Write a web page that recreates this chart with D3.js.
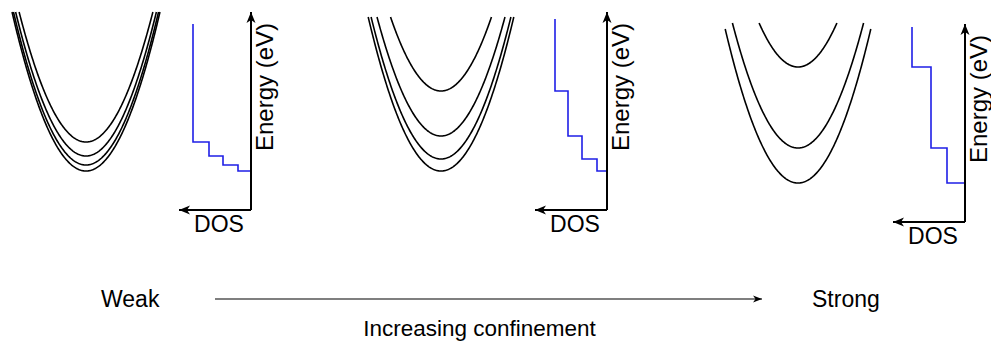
<!DOCTYPE html>
<html>
<head>
<meta charset="utf-8">
<script src="https://cdn.jsdelivr.net/npm/d3@7"></script>
<style>
  html, body { margin: 0; padding: 0; background: #ffffff; }
  svg { display: block; }
  text { font-family: "Liberation Sans", Arial, sans-serif; fill: #000; }
</style>
</head>
<body>
<svg id="chart" width="991" height="343"></svg>
<script>
// Subband minimum energies (arbitrary units above the band edge), weak -> strong confinement
const levelsWeak   = [39, 45, 54, 68];
const levelsMedium = [39, 51, 74, 119];
const levelsStrong = [39, 74, 155];

// Energy at which each dispersion curve is cut off
const topsWeak   = [198, 198, 198, 198];
const topsMedium = [193, 193, 193, 193];
const topsStrong = [193, 199, 199];

// Step-like 2D density of states reached after each subband onset
const dosWeak   = [13, 28, 42, 58];
const dosMedium = [10, 25, 39, 52];
const dosStrong = [18, 34, 53];

// Upper end of the DOS staircase
const dosTopWeak = 186, dosTopMedium = 191, dosTopStrong = 195;

// Axis and label texts
const energyLabel = "Energy (eV)";
const dosLabel = "DOS";
const weakLabel = "Weak";
const strongLabel = "Strong";
const arrowLabel = "Increasing confinement";

// Dispersion curvature: E = En + curvature * k^2
const curvature = 186;

const panels = [
  { levels: levelsWeak,   tops: topsWeak,   dos: dosWeak,   dosTop: dosTopWeak,   kx: 86,  axisX: 251, originY: 210 },
  { levels: levelsMedium, tops: topsMedium, dos: dosMedium, dosTop: dosTopMedium, kx: 441, axisX: 607, originY: 210 },
  { levels: levelsStrong, tops: topsStrong, dos: dosStrong, dosTop: dosTopStrong, kx: 798, axisX: 965, originY: 222 }
];

const svg = d3.select("#chart");

const defs = svg.append("defs");
defs.append("marker")
  .attr("id", "head")
  .attr("viewBox", "-12 -5 13 10")
  .attr("refX", 0).attr("refY", 0)
  .attr("markerWidth", 13).attr("markerHeight", 10)
  .attr("markerUnits", "userSpaceOnUse")
  .attr("orient", "auto")
  .append("path")
  .attr("d", "M0,0 L-11,-4.5 L-8,0 L-11,4.5 Z")
  .attr("fill", "#000");
defs.append("marker")
  .attr("id", "headSmall")
  .attr("viewBox", "-10 -4 11 8")
  .attr("refX", 0).attr("refY", 0)
  .attr("markerWidth", 11).attr("markerHeight", 8)
  .attr("markerUnits", "userSpaceOnUse")
  .attr("orient", "auto")
  .append("path")
  .attr("d", "M0,0 L-9,-3.5 L-6.5,0 L-9,3.5 Z")
  .attr("fill", "#000");

const ENERGY_MAX = 200, DOS_MAX = 72, ARROW_E = 198;

panels.forEach(p => {
  const g = svg.append("g");

  const kScale = d3.scaleLinear().domain([-1, 1]).range([p.kx - 80, p.kx + 80]);
  const eScale = d3.scaleLinear().domain([0, ENERGY_MAX]).range([p.originY, p.originY - ENERGY_MAX]);
  const dScale = d3.scaleLinear().domain([0, DOS_MAX]).range([p.axisX, p.axisX - DOS_MAX]);

  // Parabolic subbands
  const line = d3.line().x(d => kScale(d[0])).y(d => eScale(d[1]));
  p.levels.forEach((en, i) => {
    const kMax = Math.sqrt((p.tops[i] - en) / curvature);
    const pts = d3.range(0, 201).map(j => {
      const k = -kMax + (2 * kMax) * j / 200;
      return [k, en + curvature * k * k];
    });
    g.append("path")
      .attr("d", line(pts))
      .attr("fill", "none")
      .attr("stroke", "#000")
      .attr("stroke-width", 1.6);
  });

  // DOS staircase
  const stair = [[0, p.levels[0]]];
  p.levels.forEach((en, i) => {
    stair.push([p.dos[i], en]);
    const next = i + 1 < p.levels.length ? p.levels[i + 1] : p.dosTop;
    stair.push([p.dos[i], next]);
  });
  g.append("path")
    .attr("d", d3.line().x(d => dScale(d[0])).y(d => eScale(d[1]))(stair))
    .attr("fill", "none")
    .attr("stroke", "#1f1fe6")
    .attr("stroke-width", 1.6);

  // Axes
  g.append("line")
    .attr("x1", dScale(0)).attr("y1", eScale(0))
    .attr("x2", dScale(0)).attr("y2", eScale(ARROW_E))
    .attr("stroke", "#000").attr("stroke-width", 2)
    .attr("marker-end", "url(#head)");
  g.append("line")
    .attr("x1", dScale(0)).attr("y1", eScale(0))
    .attr("x2", dScale(DOS_MAX)).attr("y2", eScale(0))
    .attr("stroke", "#000").attr("stroke-width", 2)
    .attr("marker-end", "url(#head)");

  g.append("text")
    .attr("x", dScale(32)).attr("y", eScale(0) + 22)
    .attr("text-anchor", "middle")
    .attr("font-size", 23)
    .text(dosLabel);

  g.append("text")
    .attr("transform", `translate(${dScale(0) + 22},${eScale(59)}) rotate(-90)`)
    .attr("text-anchor", "start")
    .attr("font-size", 24)
    .text(energyLabel);
});

// Confinement arrow along the bottom
const cScale = d3.scaleLinear().domain([0, 1]).range([215, 762]);
svg.append("line")
  .attr("x1", cScale(0)).attr("y1", 299)
  .attr("x2", cScale(1)).attr("y2", 299)
  .attr("stroke", "#000").attr("stroke-width", 1.2)
  .attr("marker-end", "url(#headSmall)");

svg.append("text").attr("x", 101).attr("y", 307).attr("font-size", 23).text(weakLabel);
svg.append("text").attr("x", 812).attr("y", 307).attr("font-size", 23).text(strongLabel);
svg.append("text").attr("x", (cScale(0) + cScale(1)) / 2 - 9).attr("y", 336)
  .attr("text-anchor", "middle").attr("font-size", 22.5).text(arrowLabel);
</script>
</body>
</html>
